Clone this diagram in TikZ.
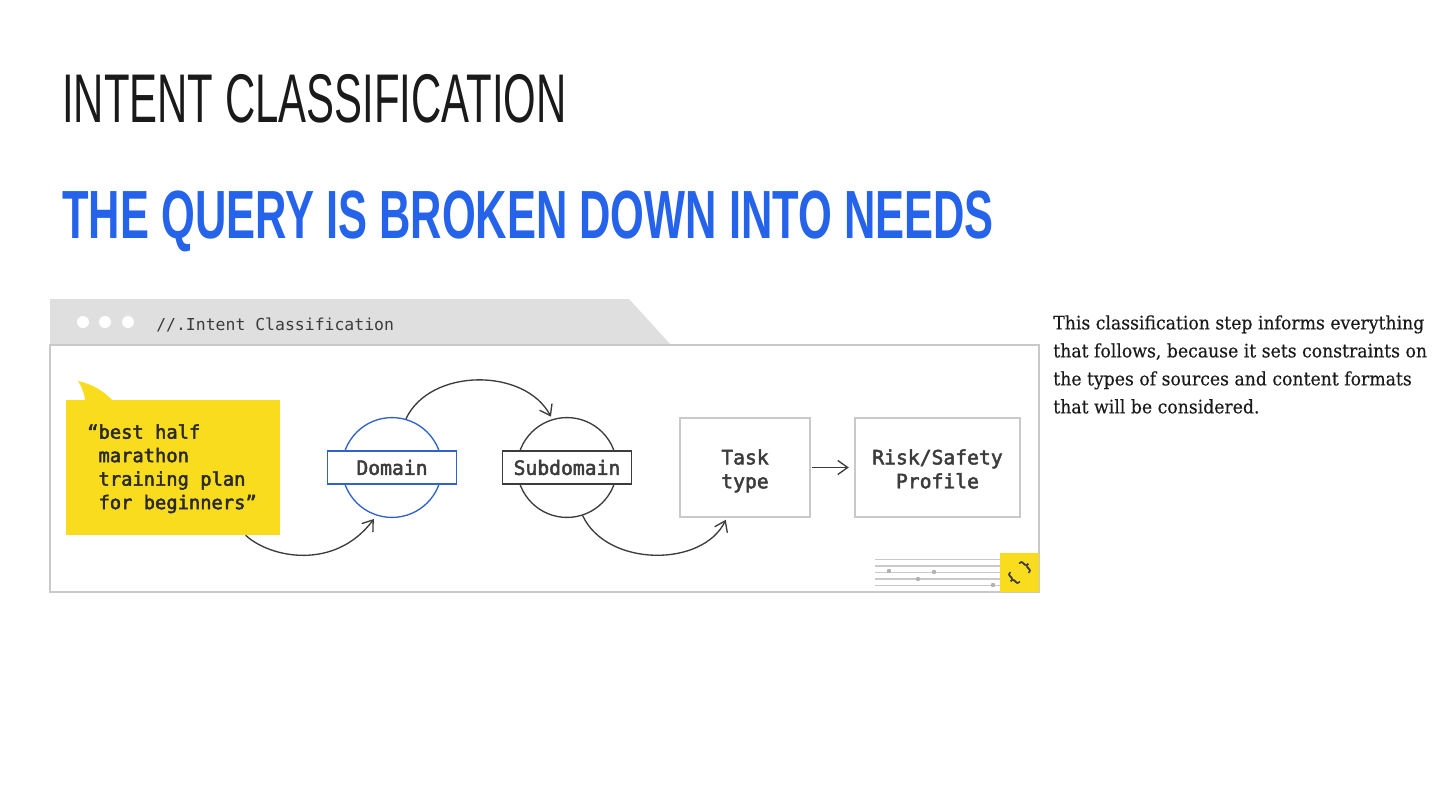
\documentclass[tikz,border=0pt]{standalone}
\usepackage{fontspec}
\usetikzlibrary{arrows.meta, positioning}
\newfontfamily\headfont[FakeStretch=0.608]{Liberation Sans}
\newfontfamily\headboldfont[FakeStretch=0.637]{Liberation Sans Bold}
\newfontfamily\codefont[FakeBold=2.5]{DejaVu Sans Mono}
\newfontfamily\codeplainfont{DejaVu Sans Mono}
\newfontfamily\bodyfont[FakeStretch=0.93,FakeBold=0.3]{DejaVu Serif}
\definecolor{hdBlue}{HTML}{2563EB}
\definecolor{hdInk}{HTML}{1A1A1A}
\definecolor{tabGrey}{HTML}{DFDFDF}
\definecolor{frameGrey}{HTML}{C9C9C9}
\definecolor{noteYellow}{HTML}{FADC1E}
\definecolor{inkDark}{HTML}{3C3C3C}
\definecolor{domBlue}{HTML}{2F62CF}
\tikzset{
  flowline/.style = {-{Straight Barb[length=7pt,width=10pt]}, line width=0.95pt, inkDark},
  labelbox/.style = {draw, fill=white, line width=1pt, minimum width=92pt, minimum height=23.5pt,
                     inner sep=0pt, font=\codefont\fontsize{14}{16}\selectfont, text=inkDark},
  ringnode/.style = {circle, draw, line width=0.95pt, minimum size=71pt, inner sep=0pt},
  stagebox/.style = {draw=frameGrey, line width=1.2pt, minimum height=70.5pt, inner sep=0pt, align=center,
                     font=\codefont\fontsize{14}{17}\selectfont, text=inkDark},
  gridline/.style = {frameGrey, line width=1pt},
  griddot/.style  = {circle, fill=black!30, inner sep=1.1pt},
}
\begin{document}
\begin{tikzpicture}[x=0.025cm, y=-0.025cm]
\useasboundingbox (0,0) rectangle (1440,810);
\fill[white] (0,0) rectangle (1440,810);
% headings
\node[anchor=base west, inner sep=0pt, text=hdInk, font=\headfont\fontsize{49}{50}\selectfont] (title) at (62,122) {INTENT CLASSIFICATION};
\node[anchor=base west, inner sep=0pt, text=hdBlue, font=\headboldfont\fontsize{48.5}{50}\selectfont] (subtitle) at (62,238) {THE QUERY IS BROKEN DOWN INTO NEEDS};
% window
\fill[tabGrey] (50,299) -- (629,299) -- (671,345) -- (50,345) -- cycle;
\draw[frameGrey, line width=1.2pt, fill=white] (50,345) rectangle (1039,592);
\foreach \x in {83,105,128} \fill[white] (\x,322) circle (6);
\node[anchor=west, inner sep=0pt, text=inkDark, font=\codeplainfont\fontsize{11.7}{14}\selectfont] (wintitle) at (156,325) {//.Intent Classification};
% query note
\fill[noteYellow] (78,381) .. controls (92,384) and (104,391) .. (113,401) -- (85,401) .. controls (85,395) and (82,387) .. (78,381) -- cycle;
\node[fill=noteYellow, minimum width=152.2pt, minimum height=96pt, inner sep=0pt] (quote) at (173,467.5) {};
\node[anchor=north west, inner sep=0pt, align=left, text=inkDark!70!black, font=\codefont\fontsize{13.35}{16.7}\selectfont] (quotetext) at (87,424)
  {“best half\\[0pt]\hspace*{8pt}marathon\\\hspace*{8pt}training plan\\\hspace*{8pt}for beginners”};
% domain and subdomain
\node[ringnode, draw=domBlue] (dom) at (392,467.5) {};
\node[labelbox, draw=domBlue] (domlabel) at (392,467.5) {Domain};
\node[ringnode, draw=inkDark] (sub) at (567,467.5) {};
\node[labelbox, draw=inkDark] (sublabel) at (567,467.5) {Subdomain};
% stages
\node[stagebox, minimum width=92.5pt] (task) at (745,467.5) {\rule{0pt}{17.6pt}Task\\\strut type};
\node[stagebox, minimum width=117pt] (risk) at (937.5,467.5) {\rule{0pt}{17.6pt}Risk/Safety\\\strut Profile};
% connectors
\draw[flowline, shorten >=3pt] (quote.-43.5) .. controls (270,558) and (335,571) .. (dom.-108);
\draw[flowline, shorten >=2pt] (dom.74) .. controls (430,367.5) and (525,367.5) .. (sub.107);
\draw[flowline, shorten >=1.5pt] (sub.-72) .. controls (607,567.5) and (703,567.5) .. (task.-110);
\draw[flowline, shorten <=0.5pt, shorten >=4pt] (task) -- (risk);
% corner mark
\foreach \y in {559.5,566,572.5,579,585.5} \draw[gridline] (875,\y) -- (1000,\y);
\foreach \x/\y in {889/571,934/572,918/579,993/585} \node[griddot] at (\x,\y) {};
\fill[noteYellow] (1000,553) rectangle (1039,592);
\node[rotate=45, inner sep=0pt, text=inkDark, font=\codefont\fontsize{11}{12}\selectfont] (bracemark) at (1019.5,572.5) {\{~\}};
% side note
\node[anchor=north west, inner sep=0pt, align=left, text=hdInk, font=\bodyfont\fontsize{13.2}{19.9}\selectfont] (sidenote) at (1053,315)
  {This classification step informs everything\\that follows, because it sets constraints on\\the types of sources and content formats\\that will be considered.};
\end{tikzpicture}
\end{document}
